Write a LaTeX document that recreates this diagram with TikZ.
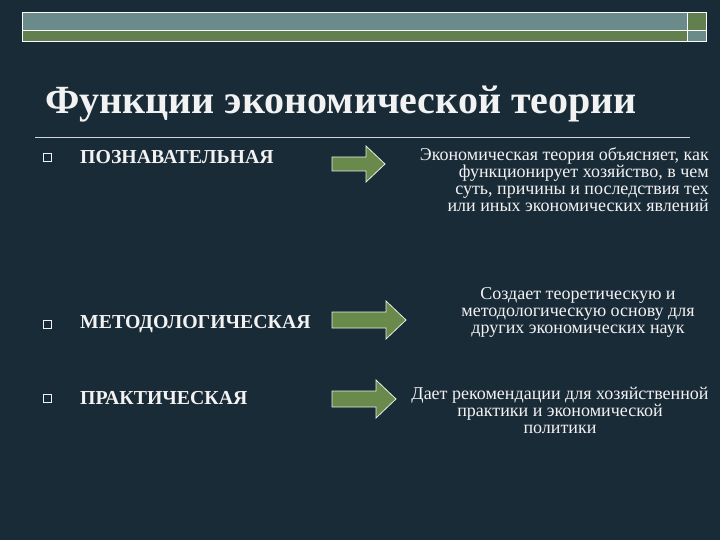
\documentclass[tikz,border=0pt]{standalone}
\usepackage{fontspec}
\setmainfont{Liberation Serif}
\usetikzlibrary{shapes.arrows}
\definecolor{bg}{HTML}{1A2B38}
\definecolor{barg}{HTML}{6B8A8A}
\definecolor{bargr}{HTML}{62804F}
\definecolor{arr}{HTML}{6A8A4C}
\definecolor{txt}{HTML}{F2F2F2}
\begin{document}
\begin{tikzpicture}[x=1pt,y=-1pt,
  bar/.style={draw=white,line width=0.8pt},
  bul/.style={draw=txt,line width=0.5pt,minimum size=8pt,inner sep=0pt},
  lab/.style={anchor=west,text=txt,font=\bfseries\fontsize{19.8}{21}\selectfont},
  desc/.style={text=txt,font=\fontsize{18}{17}\selectfont,align=right,anchor=east,inner sep=0pt},
  desc2/.style={text=txt,font=\fontsize{18}{17}\selectfont,align=center,inner sep=0pt},
  arrow/.style={fill=arr,draw=white!85!arr,line width=0.8pt}]
\fill[bg] (0,0) rectangle (720,540);
\useasboundingbox (0,0) rectangle (720,540);
\fill[barg] (22,12) rectangle (687,30);
\fill[bargr] (22,30) rectangle (687,41);
\fill[bargr] (687,12) rectangle (706,30);
\fill[barg] (687,30) rectangle (706,41);
\draw[bar] (22,12) rectangle (706,41);
\draw[bar] (22,30) -- (706,30);
\draw[bar] (687,12) -- (687,41);
\node[anchor=west,text=txt,font=\bfseries\fontsize{40}{42}\selectfont,inner sep=0pt] (title) at (45,104) {Функции экономической теории};
\draw[white!80!bg,line width=0.6pt] (35,137) -- (690,137);
\node[bul] (b1) at (47,157) {};
\node[bul] (b2) at (47,324) {};
\node[bul] (b3) at (47,398) {};
\node[lab,inner sep=0pt] (l1) at (80,157) {ПОЗНАВАТЕЛЬНАЯ};
\node[lab,inner sep=0pt] (l2) at (80,324) {МЕТОДОЛОГИЧЕСКАЯ};
\node[lab,inner sep=0pt] (l3) at (80,398) {ПРАКТИЧЕСКАЯ};
\draw[arrow] (332,157) -- (366,157) -- (366,146) -- (385,164) -- (366,182) -- (366,171) -- (332,171) -- cycle;
\draw[arrow] (332,312) -- (386,312) -- (386,301) -- (406,320) -- (386,339) -- (386,328) -- (332,328) -- cycle;
\draw[arrow] (332,391) -- (376,391) -- (376,380) -- (396,399) -- (376,418) -- (376,407) -- (332,407) -- cycle;
\node[desc] (d1) at (709,180) {Экономическая теория объясняет, как\\функционирует хозяйство, в чем\\суть, причины и последствия тех\\или иных экономических явлений};
\node[desc2] (d2) at (578,312) {Создает теоретическую и\\методологическую основу для\\других экономических наук};
\node[desc2] (d3) at (560,410) {Дает рекомендации для хозяйственной\\практики и экономической\\политики};
\end{tikzpicture}
\end{document}
